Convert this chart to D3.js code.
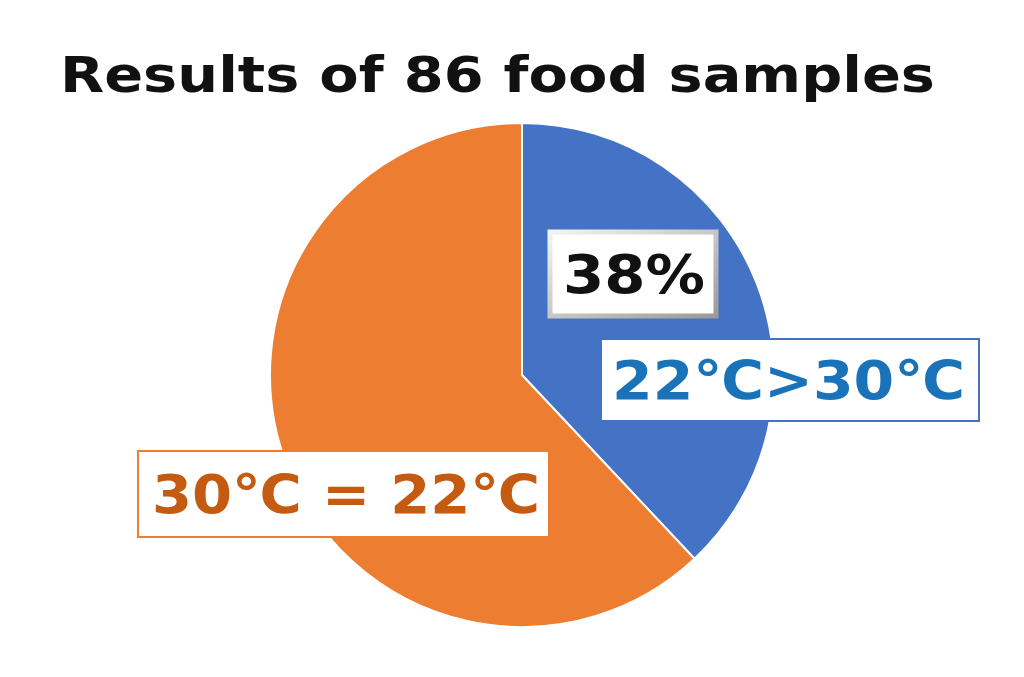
<!DOCTYPE html>
<html><head><meta charset="utf-8">
<script src="https://cdn.jsdelivr.net/npm/d3@7"></script>
<style>body{margin:0;background:#fff}</style></head>
<body><svg id="c" width="1024" height="677"></svg>
<script>
const title = "Results of 86 food samples";
const categories = ["22℃>30℃", "30℃ = 22℃"];
const values = [38, 62];
const colors = ["#4472C4", "#ED7D31"];

const svg = d3.select("#c");
const FONT = "DejaVu Sans, Noto Sans, sans-serif";
svg.append("text").attr("x", 60).attr("y", 92)
  .attr("font-family", FONT).attr("font-weight", 700)
  .attr("font-size", 50).attr("fill", "#111")
  .attr("textLength", 875).attr("lengthAdjust", "spacingAndGlyphs").text(title);

const cx = 522, cy = 375, r = 252;
const pie = d3.pie().sort(null)(values);
const arc = d3.arc().innerRadius(0).outerRadius(r);
const g = svg.append("g").attr("transform", `translate(${cx},${cy})`);
g.selectAll("path").data(pie).join("path").attr("d", arc)
  .attr("fill", (d, i) => colors[i]).attr("stroke", "#fff").attr("stroke-width", 2);

const defs = svg.append("defs");
const grad = defs.append("linearGradient").attr("id", "gb").attr("x1", 0).attr("y1", 0).attr("x2", 1).attr("y2", 1);
grad.append("stop").attr("offset", 0).attr("stop-color", "#f4f4f4");
grad.append("stop").attr("offset", 1).attr("stop-color", "#9a9a9a");

function box(x, y, w, h, stroke, sw, text, color, fs, tx, tl) {
  svg.append("rect").attr("x", x).attr("y", y).attr("width", w).attr("height", h)
    .attr("fill", "#fff").attr("stroke", stroke).attr("stroke-width", sw);
  svg.append("text").attr("x", tx).attr("y", y + h / 2).attr("dy", "0.36em")
    .attr("font-family", FONT)
    .attr("font-weight", 700).attr("font-size", fs).attr("fill", color)
    .attr("textLength", tl).attr("lengthAdjust", "spacingAndGlyphs").text(text);
}
const pct = Math.round(values[0] / d3.sum(values) * 100) + "%";
box(550, 232, 166, 84, "url(#gb)", 5, pct, "#111", 54, 563, 142);
box(601, 339, 378, 82, "#4472C4", 2, categories[0], "#1a73b8", 54, 612, 353);
box(138, 451, 411, 86, "#ED7D31", 2, categories[1], "#c55a11", 54, 152, 388);
</script></body></html>
